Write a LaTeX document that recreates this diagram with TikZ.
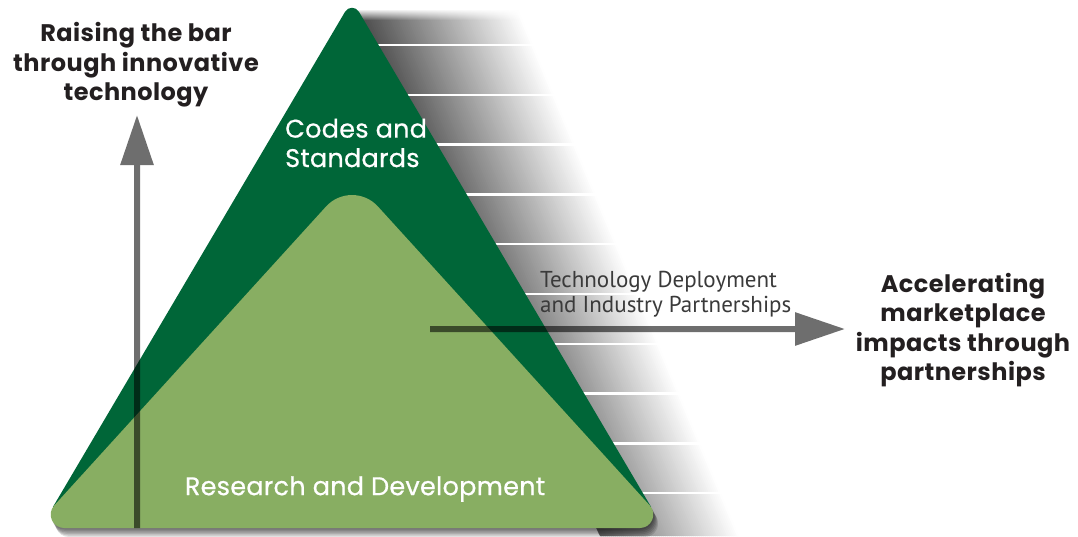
\documentclass[tikz,border=0pt]{standalone}
\usepackage{fontspec}
\setmainfont{Poppins}
\newfontfamily\gotham{Poppins}[LetterSpace=2]
\newfontfamily\gothammed{Poppins}[FakeBold=0.6,LetterSpace=1]
\newfontfamily\myriad{PT Sans}
\usetikzlibrary{calc,arrows.meta}
\definecolor{dkgreen}{RGB}{0,102,56}
\definecolor{ltgreen}{RGB}{136,174,98}
\definecolor{labelblack}{RGB}{35,31,32}
\definecolor{techgray}{RGB}{58,58,58}
\tikzset{
  bigarrow/.style={black,line width=6pt,-{Triangle[length=50pt,width=32pt]}},
  blacklabel/.style={align=center,text=labelblack,inner sep=0pt,font=\gotham\bfseries\fontsize{24}{29.6}\selectfont},
  whitelabel/.style={text=white,inner sep=0pt,font=\gothammed\fontsize{25.5}{29.4}\selectfont},
  techlabel/.style={align=left,text=techgray,inner sep=0pt,font=\myriad\fontsize{23}{24.5}\selectfont},
  whiteline/.style={white,line width=2.5pt}
}
\begin{document}
\begin{tikzpicture}[x=1pt,y=-1pt]
\useasboundingbox (0,0) rectangle (1078,536);
% ---------- gray shadow band -----------
\begin{scope}
\clip (356,10) -- (760,10) -- (1000,536) -- (600,536) -- cycle;
\foreach \t in {330,332,...,530}{
  \pgfmathsetmacro\g{max(0,min(255,70+1.1*(\t-345)))/2.55}
  \fill[white!\g!black] (\t+4.2,10) -- (\t+7.2,10) -- (\t+227.8,536) -- (\t+224.8,536) -- cycle;
}
\end{scope}
\foreach \k in {0,...,9}{
  \pgfmathsetmacro\yy{45+49.8*\k}
  \draw[whiteline] (340,\yy) -- ({520+0.42*\yy},\yy);
}
\foreach \k in {0,...,9}{
  \pgfmathsetmacro\op{0.9*(1-\k/10)}
  \fill[white,opacity=\op] (345,9.5+\k) rectangle (800,10.5+\k);
}
% ---------- dark green triangle -----------
\coordinate (dA) at (352,0);
\coordinate (dBL) at (52.9,507);
\coordinate (dBR) at (651.1,507);
\coordinate (dTL) at ($(dA)!13.6pt!(dBL)$);
\coordinate (dTR) at ($(dA)!13.6pt!(dBR)$);
\fill[dkgreen] (dBL) -- (dTL) .. controls ($(dTL)!0.449!(dA)$) and ($(dTR)!0.449!(dA)$) .. (dTR) -- (dBR) -- cycle;
% ---------- light green triangle -----------
\coordinate (lA) at (352,178);
\coordinate (lBL) at (33.7,528);
\coordinate (lBR) at (670.3,528);
\coordinate (lAL) at ($(lA)!38.5pt!(lBL)$);
\coordinate (lAR) at ($(lA)!38.5pt!(lBR)$);
\coordinate (lBLu) at ($(lBL)!30.5pt!(lA)$);
\coordinate (lBLr) at ($(lBL)!30.5pt!(lBR)$);
\coordinate (lBRl) at ($(lBR)!30.5pt!(lBL)$);
\coordinate (lBRu) at ($(lBR)!30.5pt!(lA)$);
\def\lgpath{(lBLr) -- (lBRl) .. controls ($(lBRl)!0.384!(lBR)$) and ($(lBRu)!0.384!(lBR)$) .. (lBRu) -- (lAR) .. controls ($(lAR)!0.536!(lA)$) and ($(lAL)!0.536!(lA)$) .. (lAL) -- (lBLu) .. controls ($(lBLu)!0.384!(lBL)$) and ($(lBLr)!0.384!(lBL)$) .. (lBLr) -- cycle}
\foreach \k in {1,...,6}{
  \fill[black,opacity=0.12,transform canvas={shift={({0.8*\k},{1.5*\k})}}] \lgpath;
}
\fill[ltgreen] \lgpath;
% ---------- arrows -----------
\coordinate (upS) at (137,528);
\coordinate (upE) at (137,115);
\coordinate (rtS) at (430,329);
\coordinate (rtE) at (845,329);
\begin{scope}[transparency group,opacity=0.57]
\draw[bigarrow] (upS) -- (upE);
\end{scope}
\begin{scope}[transparency group,opacity=0.57]
\draw[bigarrow] (rtS) -- (rtE);
\end{scope}
% ---------- labels -----------
\node[blacklabel] (raise) at (136,65) {Raising the bar\\through innovative\\technology};
\node[blacklabel] (accel) at (963,330) {Accelerating\\marketplace\\impacts through\\partnerships};
\node[techlabel,anchor=west] (tech) at (540,294) {Technology Deployment\\and Industry Partnerships};
\node[whitelabel,align=left,anchor=west] (codes) at (285,143) {Codes and\\Standards};
\node[whitelabel] (rnd) at (365,489) {Research and Development};
\end{tikzpicture}
\end{document}
